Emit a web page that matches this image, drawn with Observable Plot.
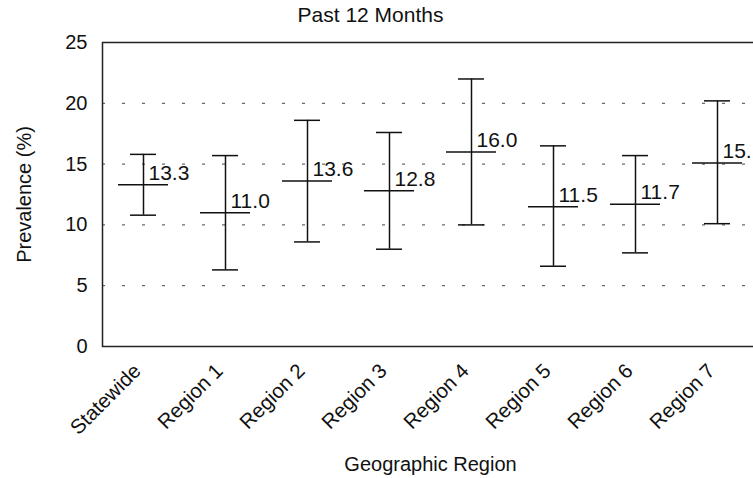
<!DOCTYPE html>
<html>
<head>
<meta charset="utf-8">
<script src="https://cdn.jsdelivr.net/npm/d3@7"></script>
<script src="https://cdn.jsdelivr.net/npm/@observablehq/plot@0.6"></script>
<style>
  html, body { margin: 0; padding: 0; background: white; overflow: hidden; }
  #title { width: 741px; height: 30px; line-height: 30px; text-align: center;
           font-family: "Liberation Sans", Arial, sans-serif; font-size: 21px; color: #111; }
</style>
</head>
<body>
<div id="title">Past 12 Months</div>
<div id="chart"></div>
<script>
const categories = ["Statewide", "Region 1", "Region 2", "Region 3", "Region 4", "Region 5", "Region 6", "Region 7"];
const means = [13.3, 11.0, 13.6, 12.8, 16.0, 11.5, 11.7, 15.1];
const lower = [10.8, 6.3, 8.6, 8.0, 10.0, 6.6, 7.7, 10.1];
const upper = [15.8, 15.7, 18.6, 17.6, 22.0, 16.5, 15.7, 20.2];
const yTicks = [0, 5, 10, 15, 20, 25];
const gridValues = [5, 10, 15, 20];

const data = categories.map((c, i) => ({region: c, mean: means[i], lo: lower[i], hi: upper[i]}));

const plot = Plot.plot({
  width: 760,
  height: 448,
  marginTop: 12,
  marginLeft: 102,
  marginRight: 2,
  marginBottom: 132,
  style: {fontFamily: "Liberation Sans, Arial, sans-serif", fontSize: "20px", color: "#111", maxWidth: "none", overflow: "visible"},
  x: {type: "band", domain: categories, padding: 0},
  y: {domain: [0, 25]},
  marks: [
    Plot.ruleY(gridValues, {stroke: "#444", strokeWidth: 1, strokeDasharray: "3,17"}),
    Plot.frame({stroke: "#222", strokeWidth: 1.5}),
    Plot.axisY({ticks: yTicks, tickSize: 0, tickPadding: 15, label: "Prevalence (%)", labelAnchor: "center", labelOffset: 86, labelArrow: "none", fontSize: 20}),
    Plot.axisX({tickSize: 0, tickRotate: -45, tickPadding: 21, dx: -6, label: null, fontSize: 20.5}),
    Plot.axisX({ticks: [], tickSize: 0, label: "Geographic Region", labelAnchor: "center", labelOffset: 124, labelArrow: "none", fontSize: 20}),
    Plot.ruleX(data, {x: "region", y1: "lo", y2: "hi", stroke: "#111", strokeWidth: 1.5}),
    Plot.tickY(data, {x: "region", y: "hi", insetLeft: 28, insetRight: 28, stroke: "#111", strokeWidth: 1.5}),
    Plot.tickY(data, {x: "region", y: "lo", insetLeft: 28, insetRight: 28, stroke: "#111", strokeWidth: 1.5}),
    Plot.tickY(data, {x: "region", y: "mean", insetLeft: 16, insetRight: 16, stroke: "#111", strokeWidth: 1.5}),
    Plot.text(data, {x: "region", y: "mean", text: d => d.mean.toFixed(1), textAnchor: "start", lineAnchor: "bottom", dx: 5, dy: -5, fontSize: 21, fill: "#111"})
  ]
});
document.getElementById("chart").appendChild(plot);
</script>
</body>
</html>
